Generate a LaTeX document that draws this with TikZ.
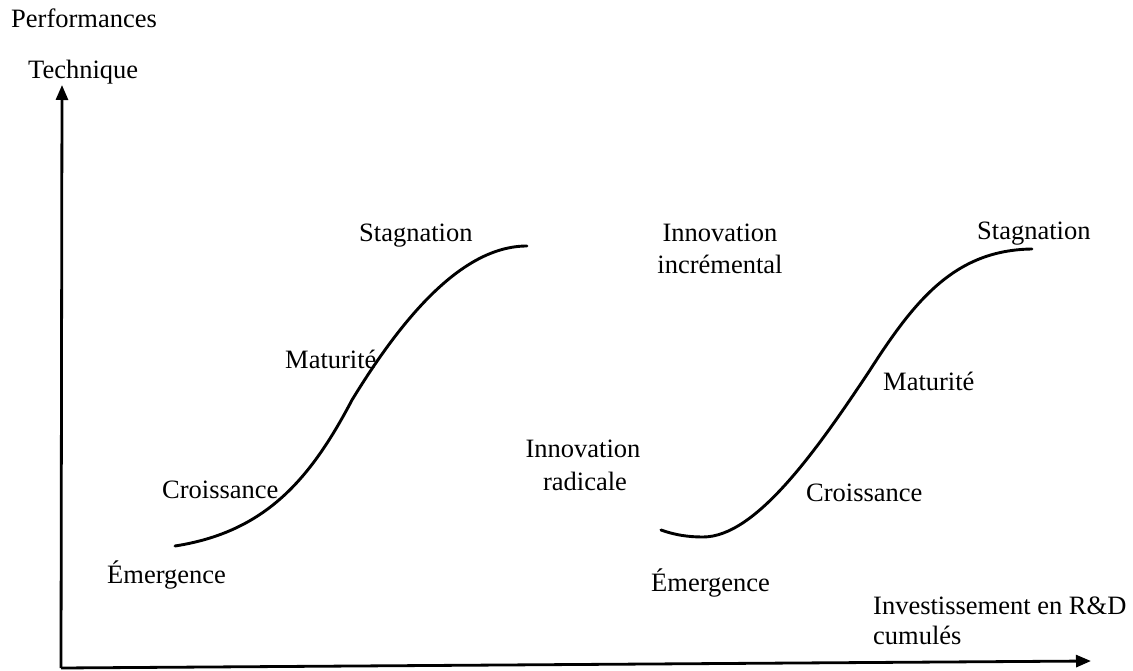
\documentclass[tikz,border=0pt]{standalone}
\usepackage{fontspec}
\setmainfont{Liberation Serif}
\usetikzlibrary{arrows.meta}
\tikzset{
  lbl/.style={inner sep=0pt, font=\fontsize{26.5}{31}\selectfont, anchor=base west},
  lblc/.style={inner sep=0pt, font=\fontsize{26.5}{31}\selectfont, anchor=base},
  axis/.style={line width=2.8pt, -{Triangle[length=15pt,width=12pt]}},
  scurve/.style={line width=2.9pt, line cap=round}
}
\begin{document}
\begin{tikzpicture}[x=1pt,y=-1pt]
\useasboundingbox (0,0) rectangle (1133,671);
% axes
\coordinate (O) at (61,668);
\coordinate (ytip) at (62,85);
\coordinate (xtip) at (1091,661);
\draw[axis] (O) -- (ytip);
\draw[axis] (O) -- (xtip);
% axis labels
\node[lbl] (perf) at (11,28) {Performances};
\node[lbl] (tech) at (28,79) {Technique};
\node[lbl] (inv1) at (873,614) {Investissement en R\&D};
\node[lbl] (inv2) at (873,644) {cumulés};
% left S-curve
\draw[scurve] (175,546) .. controls (265,532) and (310,480) .. (352,400)
  .. controls (399,323) and (460,246) .. (527,246);
% left labels
\node[lbl] (stag1) at (359,242) {Stagnation};
\node[lbl] (mat1) at (285,368) {Maturité};
\node[lbl] (cro1) at (162,498) {Croissance};
\node[lbl] (eme1) at (107,583) {Émergence};
% middle labels
\node[lblc] (inc1) at (720,242) {Innovation};
\node[lblc] (inc2) at (720,273) {incrémental};
\node[lblc] (rad1) at (583,457) {Innovation};
\node[lblc] (rad2) at (585,490) {radicale};
% right S-curve
\draw[scurve] (661,530) .. controls (675,535) and (688,537) .. (703,537)
  .. controls (755,537) and (815,453) .. (870,370)
  .. controls (915,300) and (955,250) .. (1032,249);
% right labels
\node[lbl] (stag2) at (977,240) {Stagnation};
\node[lbl] (mat2) at (883,390) {Maturité};
\node[lbl] (cro2) at (806,501) {Croissance};
\node[lbl] (eme2) at (651,591) {Émergence};
\end{tikzpicture}
\end{document}
